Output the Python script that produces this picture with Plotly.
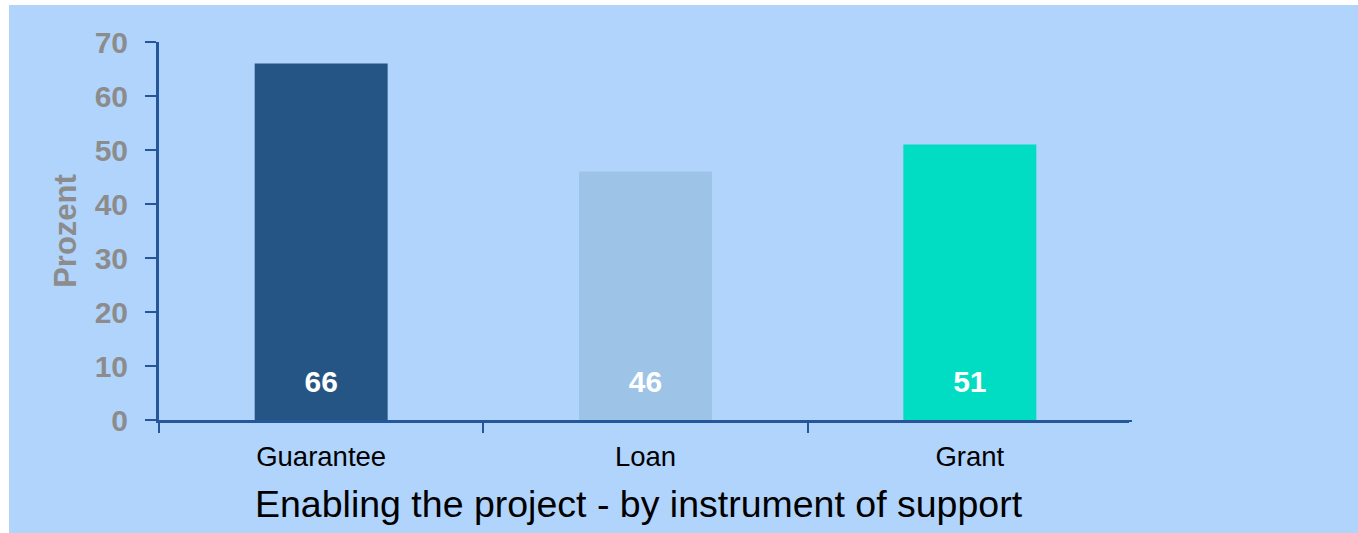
import plotly.graph_objects as go

# Share of projects enabled, by instrument of support (percent)
categories = ["Guarantee", "Loan", "Grant"]
values = [66, 46, 51]
bar_colors = ["#245584", "#9DC3E7", "#00DDC3"]
y_ticks = [0, 10, 20, 30, 40, 50, 60, 70]

W, H = 1358, 533
# plot area in pixels
L, R, T, B = 159, 1132, 42, 420
pw, ph = R - L, B - T

BG = "#B1D4FC"
AXIS = "#25569A"
LABEL_Y = 6.6  # height (in data units) of the value labels inside the bars

fig = go.Figure()
fig.add_trace(go.Bar(
    x=categories, y=values, width=0.41,
    marker=dict(color=bar_colors, line=dict(width=0)),
    hoverinfo="x+y", showlegend=False,
))
fig.add_trace(go.Scatter(
    x=categories, y=[LABEL_Y] * len(values), mode="text",
    text=[str(v) for v in values],
    textfont=dict(family="Liberation Sans, Arial", size=30, color="white", weight="bold"),
    hoverinfo="skip", showlegend=False,
))


def px_x(x):
    return (x - L) / pw


def px_y(y):
    return (B - y) / ph


fig.update_layout(
    width=W, height=H,
    margin=dict(l=L, r=W - R, t=T, b=H - B, pad=0),
    paper_bgcolor=BG, plot_bgcolor=BG,
    font=dict(family="Liberation Sans, Arial"),
    xaxis=dict(
        type="category", range=[-0.5, 2.5],
        showline=True, linecolor=AXIS, linewidth=3,
        ticks="outside", tickson="boundaries", ticklen=10, tickcolor=AXIS, tickwidth=2,
        tickfont=dict(size=27.5, color="black"),
        ticklabelstandoff=10,
        showgrid=False, zeroline=False,
    ),
    yaxis=dict(
        range=[0, 70], tickvals=y_ticks,
        showline=True, linecolor=AXIS, linewidth=3,
        ticks="outside", ticklen=11, tickcolor=AXIS, tickwidth=2,
        tickfont=dict(size=30, color="#8C8C8C", weight="bold"),
        ticklabelstandoff=11,
        showgrid=False, zeroline=False,
        title=dict(text="Prozent", font=dict(size=31, color="#8C8C8C", weight="bold"), standoff=9),
    ),
    shapes=[
        # the x axis has no tick at its right end
        dict(type="rect", xref="paper", yref="paper", layer="above",
             x0=px_x(R - 3), x1=px_x(R + 5), y0=px_y(B + 16), y1=px_y(B + 2),
             fillcolor=BG, line=dict(width=0)),
        # white margin strips at the top and left edges
        dict(type="rect", xref="paper", yref="paper", layer="above",
             x0=px_x(0), x1=px_x(W), y0=px_y(5), y1=px_y(-2),
             fillcolor="white", line=dict(width=0)),
        dict(type="rect", xref="paper", yref="paper", layer="above",
             x0=px_x(-2), x1=px_x(9), y0=px_y(H + 2), y1=px_y(-2),
             fillcolor="white", line=dict(width=0)),
    ],
    annotations=[
        dict(text="Enabling the project - by instrument of support",
             xref="paper", yref="paper", x=px_x(639), y=px_y(504),
             xanchor="center", yanchor="middle", showarrow=False,
             font=dict(size=37.5, color="black")),
    ],
)

fig.write_html("out.html")
